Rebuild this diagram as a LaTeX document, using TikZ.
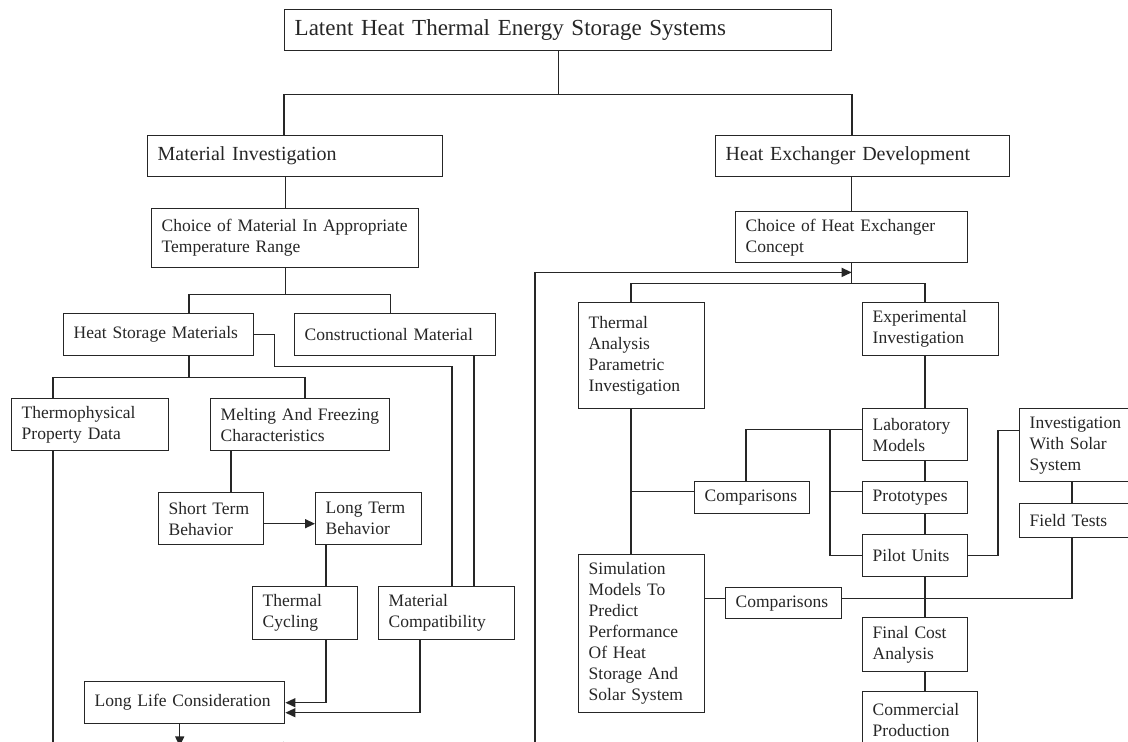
\documentclass[tikz,border=0pt]{standalone}
\usepackage{fontspec}
\setmainfont{Liberation Serif}
\usetikzlibrary{arrows.meta}

\begin{document}
\begin{tikzpicture}
   [x=1pt,y=-1pt,line width=1.4pt,color=black!85,
    >={Triangle[length=10pt,width=9pt]},
    box/.style={draw,anchor=north west,inner xsep=10pt,inner ysep=3pt,
      align=left,font=\fontsize{17.5}{21}\selectfont},
    mainbox/.style={box,font=\fontsize{20}{24}\selectfont},
    topbox/.style={box,font=\fontsize{23}{27}\selectfont}]
   \useasboundingbox (0,0) rectangle (1128,742);
   \clip (0,0) rectangle (1128,742);

   \node (lhtes) [topbox,text width=527pt,minimum height=41pt] at (284,9)
      {Latent Heat Thermal Energy Storage Systems};
   \node (matinv) [mainbox,text width=275pt,minimum height=41pt] at (147,135)
      {Material Investigation};
   \node (hexdev) [mainbox,text width=274pt,minimum height=41pt] at (715,135)
      {Heat Exchanger Development};

   \node (choicemat) [box,text width=247pt,minimum height=59pt] at (151,208)
      {Choice of Material In Appropriate\\Temperature Range};
   \node (hsm) [box,text width=170pt,minimum height=42pt] at (63,313)
      {Heat Storage Materials};
   \node (constr) [box,text width=181pt,minimum height=42pt] at (294,313)
      {Constructional Material};
   \node (thermo) [box,text width=137pt,minimum height=52pt] at (11,398)
      {Thermophysical\\Property Data};
   \node (melt) [box,text width=159pt,minimum height=52pt] at (210,398)
      {Melting And Freezing\\Characteristics};
   \node (short) [box,text width=85pt,minimum height=52pt] at (158,492)
      {Short Term\\Behavior};
   \node (long) [box,text width=86pt,minimum height=52pt] at (315,492)
      {Long Term\\Behavior};
   \node (cycl) [box,text width=85pt,minimum height=53pt] at (252,586)
      {Thermal\\Cycling};
   \node (compat) [box,text width=116pt,minimum height=53pt] at (378,586)
      {Material\\Compatibility};
   \node (life) [box,text width=180pt,minimum height=42pt] at (84,681)
      {Long Life Consideration};

   \node (choicehx) [box,text width=212pt,minimum height=51pt] at (735,211)
      {Choice of Heat Exchanger\\Concept};
   \node (ta) [box,text width=106pt,minimum height=106pt] at (578,302)
      {Thermal\\Analysis\\Parametric\\Investigation};
   \node (exper) [box,text width=116pt,minimum height=53pt] at (862,302)
      {Experimental\\Investigation};
   \node (lab) [box,text width=85pt,minimum height=52pt] at (862,408)
      {Laboratory\\Models};
   \node (solar) [box,text width=110pt,minimum height=73pt] at (1019,408)
      {Investigation\\With Solar\\System};
   \node (field) [box,text width=110pt,minimum height=34pt] at (1019,503)
      {Field Tests};
   \node (compa) [box,text width=95pt,minimum height=32pt] at (694,481)
      {Comparisons};
   \node (proto) [box,text width=85pt,minimum height=32pt] at (862,481)
      {Prototypes};
   \node (pilot) [box,text width=85pt,minimum height=42pt] at (862,534)
      {Pilot Units};
   \node (sim) [box,text width=106pt,minimum height=158pt] at (578,554)
      {Simulation\\Models To\\Predict\\Performance\\Of Heat\\Storage And\\Solar System};
   \node (compb) [box,text width=96pt,minimum height=31pt] at (725,587)
      {Comparisons};
   \node (cost) [box,text width=85pt,minimum height=54pt] at (862,617)
      {Final Cost\\Analysis};
   \node (comm) [box,text width=95pt,minimum height=56pt] at (862,691)
      {Commercial\\Production};

   \draw (lhtes.south) -- ++(0,43) coordinate (t1);
   \draw ([xshift=137pt]matinv.north west) |- (t1) -| ([xshift=137pt]hexdev.north west);

   \draw (matinv.south -| choicemat.north) -- (choicemat.north);
   \draw (choicemat.south) -- ++(0,26) coordinate (t2);
   \draw ([xshift=126pt]hsm.north west) |- (t2) -| ([xshift=-5pt]constr.north);
   \draw ([xshift=126pt]hsm.south west) -- ++(0,21) coordinate (t3);
   \draw ([xshift=42pt]thermo.north west) |- (t3) -| ([xshift=95pt]melt.north west);
   \draw[->] ([xshift=42pt]thermo.south west) -- ++(0,295) -- ++(240,0);
   \draw ([xshift=21pt]melt.south west) -- ([xshift=73pt]short.north west);
   \draw[->] ([yshift=-5pt]short.east) -- ([yshift=-5pt]long.west);
   \draw ([xshift=11pt]long.south west) -- ([xshift=74pt]cycl.north west);
   \draw (hsm.east) -| ++(20,32) -| ([xshift=74pt]compat.north west);
   \coordinate (c1) at ([xshift=96pt]compat.north west);
   \draw (c1) -- (c1 |- constr.south);
   \draw[->] ([xshift=74pt]cycl.south west) |- (life.east);
   \draw[->] ([xshift=42pt]compat.south west) |- ([yshift=-10pt]life.east);
   \draw[->] ([xshift=-5pt]life.south) -- ++(0,22);

   \draw (choicehx.north) -- (choicehx.north |- hexdev.south);
   \draw (choicehx.south) -- ++(0,20) coordinate (t5);
   \draw ([xshift=53pt]ta.north west) |- (t5) -| ([xshift=63pt]exper.north west);
   \coordinate (fb) at (535,760);
   \draw[->] (fb) |- ([yshift=-9pt]choicehx.south);
   \draw ([xshift=53pt]ta.south west) -- ([xshift=53pt]sim.north west);
   \draw ([xshift=63pt]exper.south west) -- ([xshift=63pt]lab.north west);
   \draw ([xshift=63pt]lab.south west) -- ([xshift=63pt]proto.north west);
   \draw ([xshift=63pt]proto.south west) -- ([xshift=63pt]pilot.north west);
   \draw ([xshift=63pt]pilot.south west) -- ([xshift=63pt]cost.north west);
   \draw ([xshift=63pt]cost.south west) -- ([xshift=63pt]comm.north west);
   \coordinate (c2) at ([yshift=5pt]lab.west);
   \draw (c2) -| ([xshift=52pt]compa.north west);
   \draw (c2) ++(-32,0) |- (pilot.west);
   \draw ([yshift=6pt]proto.west) -- ++(-32,0);
   \draw ([yshift=6pt]compa.west) -- ++(-63,0);
   \coordinate (c3) at ([yshift=15pt]solar.west);
   \draw (c3) -- ++(-21,0) |- (pilot.east);
   \draw ([xshift=53pt]solar.south west) -- ([xshift=53pt]field.north west);
   \coordinate (c4) at ([yshift=5pt]compb.east);
   \draw ([xshift=53pt]field.south west) |- (c4);
   \draw (c4 -| compb.west) -- (c4 -| sim.east);
\end{tikzpicture}
\end{document}
